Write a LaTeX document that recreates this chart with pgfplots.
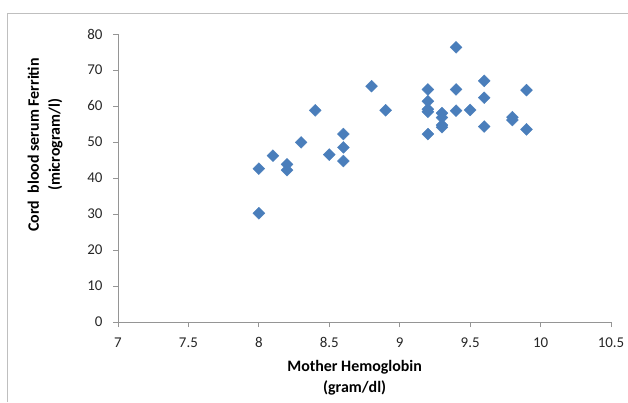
\documentclass[border=0pt]{standalone}
\usepackage{pgfplots}
\pgfplotsset{compat=1.18}
\usepackage{fontspec}
\setmainfont{Carlito}
\definecolor{ptblue}{HTML}{4A7EBB}
\definecolor{axgray}{HTML}{959595}
\definecolor{framegray}{HTML}{BFBFBF}
\definecolor{ticktext}{HTML}{262626}
\begin{document}
\begin{tikzpicture}[x=1bp,y=1bp]
\useasboundingbox (0,0) rectangle (628,402);
\draw[framegray, line width=0.8bp] (7,0) -- (7,389) -- (628,389);
\begin{axis}[
  at={(118bp,80bp)}, anchor=south west,
  scale only axis, width=493bp, height=288bp,
  xmin=7, xmax=10.5, ymin=0, ymax=80,
  xtick={7,7.5,...,10.5}, ytick={0,10,...,80},
  axis x line*=bottom, axis y line*=left,
  axis line style={axgray, line width=0.8bp},
  tick style={axgray, line width=0.8bp},
  tick align=outside, major tick length=5bp,
  xticklabel style={font=\fontsize{15}{18}\selectfont, text=ticktext, yshift=-7bp},
  yticklabel style={font=\fontsize{15}{18}\selectfont, text=ticktext, xshift=-7bp},
  /pgf/number format/assume math mode=true,
  xticklabel={\pgfmathprintnumber[fixed]{\tick}},
  yticklabel={\pgfmathprintnumber[fixed]{\tick}},
  xlabel={Mother Hemoglobin\\(gram/dl)},
  ylabel={Cord\ \ blood serum Ferritin\\(microgram/l)},
  xlabel style={font=\bfseries\fontsize{16}{21}\selectfont, align=center, at={(rel axis cs:0.48,0)}, anchor=north, yshift=-35bp},
  ylabel style={font=\bfseries\fontsize{16}{21}\selectfont, align=center, at={(rel axis cs:-0.148,0.615)}, anchor=center},
  clip=false,
]
\addplot[only marks, mark=square*, mark size=4.2bp, color=ptblue,
  every mark/.append style={rotate=45, fill=ptblue, draw=ptblue}]
coordinates {
(8.0,42.6)(8.0,30.2)(8.1,46.2)(8.2,43.8)(8.2,42.2)(8.3,49.9)(8.4,58.8)
(8.5,46.5)(8.6,52.2)(8.6,48.5)(8.6,44.7)(8.8,65.5)(8.9,58.8)
(9.2,64.6)(9.2,61.3)(9.2,59.1)(9.2,58.4)(9.2,52.2)
(9.3,58.0)(9.3,56.8)(9.3,54.7)(9.3,54.1)
(9.4,76.3)(9.4,64.6)(9.4,58.7)(9.5,58.9)
(9.6,67.0)(9.6,62.3)(9.6,54.3)(9.8,56.9)(9.8,56.1)(9.9,64.4)(9.9,53.5)
};
\end{axis}
\end{tikzpicture}
\end{document}
